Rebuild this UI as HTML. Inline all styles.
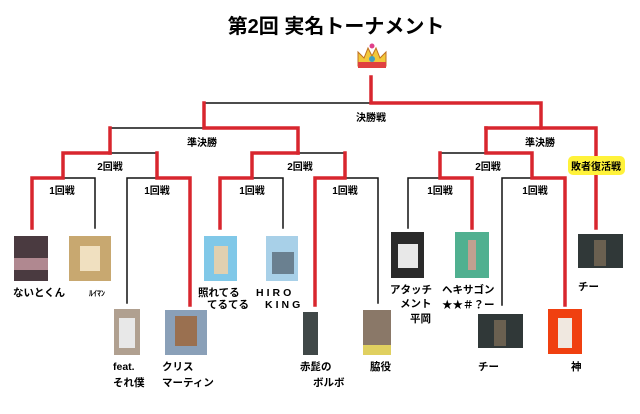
<!DOCTYPE html>
<html><head><meta charset="utf-8"><style>
html,body{margin:0;padding:0;background:#fff;}
svg{display:block;}
text{font-family:"Liberation Sans","Noto Sans CJK JP",sans-serif;font-weight:bold;fill:#000;}
</style></head><body>
<svg width="640" height="414" viewBox="0 0 640 414" xmlns="http://www.w3.org/2000/svg">
<text x="336" y="33" font-size="20" text-anchor="middle">第2回 実名トーナメント</text>
<!-- crown -->
<g>
<path d="M358 66 L358 52 L364 58 L368 48 L372 56 L376 48 L380 58 L386 52 L386 66 Z" fill="#f2c83a" stroke="#c07020" stroke-width="1"/>
<rect x="358" y="62" width="28" height="6" fill="#e04040"/>
<circle cx="372" cy="46" r="2.5" fill="#e0408a"/>
<circle cx="372" cy="59" r="3" fill="#40a0c0"/>
</g>
<g fill="none" stroke-linecap="square">
<!-- black lines -->
<g stroke="#111" stroke-width="1.5">
<path d="M204 103 H371"/>
<path d="M110 128 H204"/>
<path d="M110 153 H157"/>
<path d="M63 178 H95 V228"/>
<path d="M127 303 V178 H157"/>
<path d="M298 153 H345"/>
<path d="M250 178 H283 V228"/>
<path d="M345 178 H378 V303"/>
<path d="M440 153 H486"/>
<path d="M408 228 V178 H440"/>
<path d="M502 305 V178 H532"/>
</g>
<!-- red lines -->
<g stroke="#d8262e" stroke-width="3.5">
<path d="M371 77 V103 H541 V128"/>
<path d="M204 103 V128 H298 V153"/>
<path d="M486 128 H596 V228"/>
<path d="M110 128 V153"/>
<path d="M157 153 V178 H190 V305"/>
<path d="M32 228 V178 H63 V153 H110"/>
<path d="M220 228 V178 H252 V153 H298"/>
<path d="M315 305 V178 H345 V153"/>
<path d="M486 128 V153 H532 V178 H565 V305"/>
<path d="M440 153 V178 H472 V228"/>
</g>
</g>
<!-- labels -->
<g font-size="10" text-anchor="middle">
<text x="371" y="121">決勝戦</text>
<text x="202" y="146">準決勝</text>
<text x="540" y="146">準決勝</text>
<text x="110" y="170">2回戦</text>
<text x="300" y="170">2回戦</text>
<text x="488" y="170">2回戦</text>
<text x="62" y="194">1回戦</text>
<text x="157" y="194">1回戦</text>
<text x="252" y="194">1回戦</text>
<text x="345" y="194">1回戦</text>
<text x="440" y="194">1回戦</text>
<text x="535" y="194">1回戦</text>
</g>
<rect x="568" y="156" width="57" height="19" rx="5" fill="#fff23a"/>
<text x="596" y="170" font-size="10" text-anchor="middle">敗者復活戦</text>
<!-- images -->
<rect x="14" y="236" width="34" height="45" fill="#4a3a40"/>
<rect x="14" y="258" width="34" height="12" fill="#b08890"/>
<rect x="69" y="236" width="42" height="45" fill="#c8a870"/>
<rect x="80" y="246" width="20" height="25" fill="#f0e0c0"/>
<rect x="114" y="309" width="26" height="46" fill="#b0a090"/>
<rect x="119" y="318" width="16" height="30" fill="#e8e8e8"/>
<rect x="165" y="310" width="42" height="45" fill="#8aa0b8"/>
<rect x="175" y="316" width="22" height="30" fill="#9a7050"/>
<rect x="204" y="236" width="33" height="45" fill="#80c8e8"/>
<rect x="214" y="246" width="14" height="28" fill="#e0d0b0"/>
<rect x="266" y="236" width="32" height="45" fill="#a8d0e8"/>
<rect x="272" y="252" width="22" height="22" fill="#6a8090"/>
<rect x="303" y="312" width="15" height="43" fill="#404848"/>
<rect x="363" y="310" width="28" height="45" fill="#8a7868"/>
<rect x="363" y="345" width="28" height="10" fill="#e0d060"/>
<rect x="391" y="232" width="33" height="46" fill="#2a2a2a"/>
<rect x="398" y="244" width="20" height="24" fill="#e8e8e8"/>
<rect x="455" y="232" width="34" height="46" fill="#50b090"/>
<rect x="468" y="240" width="8" height="30" fill="#c0a090"/>
<rect x="478" y="314" width="45" height="34" fill="#303838"/>
<rect x="494" y="320" width="12" height="26" fill="#6a6050"/>
<rect x="548" y="309" width="34" height="45" fill="#f04010"/>
<rect x="558" y="318" width="14" height="30" fill="#f0e8e0"/>
<rect x="578" y="234" width="45" height="34" fill="#303838"/>
<rect x="594" y="240" width="12" height="26" fill="#6a6050"/>
<!-- names -->
<g font-size="10.5">
<text x="13" y="296">ないとくん</text>
<text x="89" y="296" font-size="8">ﾙｲﾏﾝ</text>
<text x="113" y="370" font-weight="normal">feat.</text>
<text x="113" y="386">それ僕</text>
<text x="162" y="370">クリス</text>
<text x="162" y="386">マーティン</text>
<text x="198" y="296">照れてる</text>
<text x="207" y="308">てるてる</text>
<text x="256" y="296" letter-spacing="3">HIRO</text>
<text x="265" y="308" letter-spacing="3">KING</text>
<text x="300" y="370">赤髭の</text>
<text x="313" y="386">ボルボ</text>
<text x="370" y="370">脇役</text>
<text x="390" y="293">アタッチ</text>
<text x="400" y="307">メント</text>
<text x="410" y="322">平岡</text>
<text x="442" y="293">ヘキサゴン</text>
<text x="442" y="308">★★＃？ー</text>
<text x="478" y="370">チー</text>
<text x="571" y="370">神</text>
<text x="578" y="290">チー</text>
</g>
</svg>
</body></html>
